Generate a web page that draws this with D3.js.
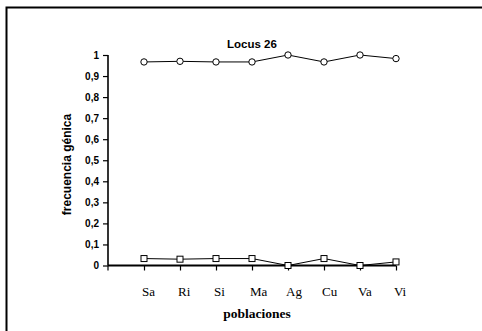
<!DOCTYPE html>
<html>
<head>
<meta charset="utf-8">
<script src="https://cdn.jsdelivr.net/npm/d3@7"></script>
<style>
  html, body { margin: 0; padding: 0; background: #fff; }
  svg { display: block; }
</style>
</head>
<body>
<script>
// Populations sampled and allele frequencies at locus 26
const poblaciones = ["Sa", "Ri", "Si", "Ma", "Ag", "Cu", "Va", "Vi"];
const alelo1 = [0.967, 0.970, 0.967, 0.967, 1.000, 0.967, 1.000, 0.983];
const alelo2 = [0.033, 0.030, 0.033, 0.033, 0.000, 0.033, 0.000, 0.017];
const yTicks = [0, 0.1, 0.2, 0.3, 0.4, 0.5, 0.6, 0.7, 0.8, 0.9, 1];

const W = 482, H = 331;
const svg = d3.select("body").append("svg").attr("width", W).attr("height", H);

// Frame (only top and left edges fall inside the page)
svg.append("path")
  .attr("d", `M6.5,${H} V7.5 H${W}`)
  .attr("fill", "none").attr("stroke", "#000").attr("stroke-width", 2);

const x0 = 108, x1 = 396, yTop = 55, yBot = 265.5;

const x = d3.scalePoint().domain(poblaciones).range([x0 + 36, x1]);
const y = d3.scaleLinear().domain([0, 1]).range([yBot, yTop]);

const sans = "'Liberation Sans', Arial, sans-serif";
const serif = "'Liberation Serif', 'Times New Roman', serif";

// Y axis
const yAxis = svg.append("g")
  .attr("transform", `translate(${x0},0)`)
  .call(d3.axisLeft(y).tickValues(yTicks).tickSize(5).tickPadding(4)
    .tickFormat(d => d3.format(".1~f")(d).replace(".", ",")));
yAxis.select(".domain").attr("stroke-width", 1.6).attr("d", `M0,${yTop}V${yBot}`);
yAxis.selectAll(".tick line").attr("stroke-width", 1.2);
yAxis.selectAll(".tick text")
  .attr("font-family", sans).attr("font-weight", "bold").attr("font-size", 10).attr("fill", "#000");

// X axis
const xAxis = svg.append("g")
  .attr("transform", `translate(0,${yBot})`)
  .call(d3.axisBottom(x).tickSize(5).tickPadding(16));
xAxis.select(".domain").attr("stroke-width", 2).attr("d", `M${x0},0H${x1}`);
xAxis.selectAll(".tick line").attr("stroke-width", 1.2);
xAxis.selectAll(".tick text")
  .attr("font-family", serif).attr("font-size", 13).attr("fill", "#000")
  .attr("text-anchor", "start").attr("dx", -2.5);
// small tick at the origin
xAxis.append("line").attr("x1", x0).attr("x2", x0).attr("y1", 0).attr("y2", 5)
  .attr("stroke", "#000").attr("stroke-width", 1.2);

// Series lines
const line = d3.line().x((d, i) => x(poblaciones[i])).y(d => y(d));
[alelo2, alelo1].forEach(s => {
  svg.append("path").datum(s).attr("d", line)
    .attr("fill", "none").attr("stroke", "#000").attr("stroke-width", 1);
});

// Markers: squares for the rare allele, circles for the common one
svg.append("g").selectAll("rect").data(alelo2).join("rect")
  .attr("x", (d, i) => x(poblaciones[i]) - 3)
  .attr("y", d => y(d) - 3)
  .attr("width", 6).attr("height", 6)
  .attr("fill", "#fff").attr("stroke", "#000").attr("stroke-width", 1);

svg.append("g").selectAll("circle").data(alelo1).join("circle")
  .attr("cx", (d, i) => x(poblaciones[i]))
  .attr("cy", d => y(d))
  .attr("r", 3.2)
  .attr("fill", "#fff").attr("stroke", "#000").attr("stroke-width", 1);

// Title and axis titles
svg.append("text").attr("x", 252).attr("y", 48)
  .attr("text-anchor", "middle").attr("font-family", sans).attr("font-weight", "bold")
  .attr("font-size", 11.5).text("Locus 26");

svg.append("text")
  .attr("transform", `translate(71,${164.5}) rotate(-90)`)
  .attr("text-anchor", "middle").attr("font-family", sans).attr("font-weight", "bold")
  .attr("font-size", 12).text("frecuencia génica");

svg.append("text").attr("x", 257).attr("y", 318)
  .attr("text-anchor", "middle").attr("font-family", serif).attr("font-weight", "bold")
  .attr("font-size", 13.5).text("poblaciones");
</script>
</body>
</html>
